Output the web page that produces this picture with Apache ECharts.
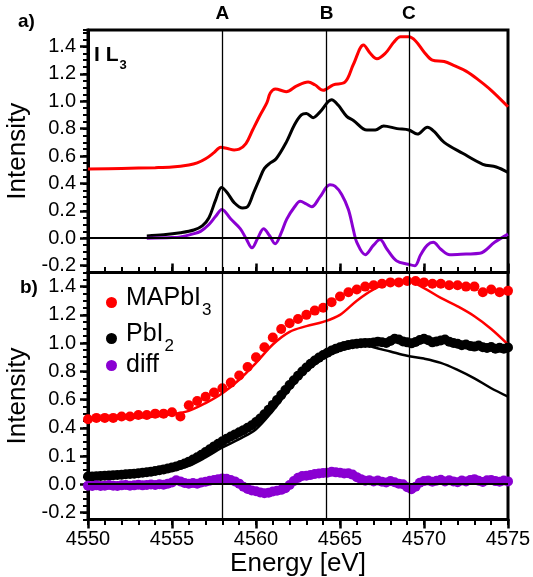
<!DOCTYPE html>
<html><head><meta charset="utf-8">
<script src="https://cdn.jsdelivr.net/npm/echarts@6/dist/echarts.min.js"></script>
<style>html,body{margin:0;padding:0;background:#fff}#c{width:533px;height:577px}</style>
</head><body><div id="c"></div><script>
// ---------- data ----------
// Panel a) : spectra (offset) and difference
const topRedE = [4550,4552,4554,4555,4556,4556.5,4557,4557.5,4557.9,4558.3,4558.7,4559,4559.4,4559.8,4560.25,4560.65,4560.85,4561.15,4561.8,4562.4,4563.1,4563.5,4564,4564.6,4565.3,4565.8,4566.4,4566.8,4567.2,4567.7,4568.2,4568.6,4569.1,4569.5,4570,4570.5,4571.2,4571.8,4572.5,4573.2,4574,4575];
const topRedV = [0.505,0.51,0.515,0.52,0.535,0.55,0.58,0.625,0.665,0.655,0.645,0.65,0.69,0.79,0.90,0.99,1.06,1.09,1.07,1.11,1.14,1.12,1.08,1.12,1.14,1.27,1.41,1.35,1.31,1.35,1.43,1.47,1.47,1.44,1.36,1.30,1.29,1.26,1.22,1.16,1.08,0.96];
const topBlackE = [4553.5,4554.5,4555.5,4556.3,4556.8,4557.2,4557.6,4557.95,4558.3,4558.7,4559.2,4559.5,4559.85,4560.2,4560.5,4560.85,4561.2,4561.8,4562.3,4562.7,4563.0,4563.4,4563.8,4564.5,4564.9,4565.4,4565.8,4566.6,4567.1,4567.6,4568.4,4569.1,4569.6,4570.2,4570.6,4571.2,4572.3,4573.5,4574.3,4575];
const topBlackV = [0.017,0.025,0.04,0.06,0.09,0.15,0.28,0.37,0.33,0.26,0.22,0.23,0.33,0.43,0.51,0.55,0.58,0.70,0.83,0.90,0.91,0.88,0.92,1.01,0.97,0.89,0.86,0.79,0.79,0.82,0.80,0.79,0.76,0.81,0.78,0.70,0.62,0.54,0.52,0.48];
const topPurpleE = [4553.5,4555,4555.5,4556.2,4556.7,4557.2,4557.6,4557.97,4558.5,4559.06,4559.4,4559.76,4560.1,4560.45,4560.8,4561.14,4561.5,4561.83,4562.3,4562.63,4563.0,4563.32,4563.8,4564.4,4564.7,4565.1,4565.5,4565.8,4566.0,4566.5,4567.0,4567.38,4567.8,4568.37,4569.06,4569.46,4569.8,4570.2,4570.55,4571.0,4571.54,4572.5,4573.32,4574.2,4575];
const topPurpleV = [0,0.005,0.01,0.03,0.05,0.10,0.16,0.21,0.14,0.07,0.0,-0.07,0.0,0.07,0.02,-0.04,0.04,0.14,0.23,0.27,0.25,0.23,0.30,0.39,0.38,0.32,0.21,0.06,-0.03,-0.12,-0.05,-0.01,-0.08,-0.165,-0.19,-0.20,-0.12,-0.05,-0.03,-0.08,-0.12,-0.115,-0.11,-0.03,0.03];

// Panel b) : measured points and calculated lines
const redDotE = [4550,4550.5,4551,4551.5,4552,4552.5,4553,4553.5,4554,4554.5,4555,4555.5,4556,4556.5,4557,4557.5,4558,4558.5,4559,4559.5,4560,4560.5,4561,4561.5,4562,4562.5,4563,4563.5,4564,4564.5,4565,4565.5,4566,4566.5,4567,4567.5,4568,4568.5,4569,4569.5,4570,4570.5,4571,4571.5,4572,4572.5,4573,4573.5,4574,4574.5,4575];
const redDotV = [0.46,0.47,0.47,0.47,0.48,0.48,0.49,0.49,0.50,0.50,0.51,0.48,0.56,0.59,0.62,0.65,0.68,0.72,0.77,0.83,0.90,0.97,1.04,1.10,1.14,1.17,1.20,1.23,1.25,1.29,1.33,1.36,1.38,1.40,1.41,1.42,1.43,1.43,1.44,1.44,1.43,1.42,1.42,1.41,1.41,1.40,1.40,1.36,1.38,1.36,1.37];
const dotE = [4550,4550.25,4550.5,4550.75,4551,4551.25,4551.5,4551.75,4552,4552.25,4552.5,4552.75,4553,4553.25,4553.5,4553.75,4554,4554.25,4554.5,4554.75,4555,4555.25,4555.5,4555.75,4556,4556.25,4556.5,4556.75,4557,4557.25,4557.5,4557.75,4558,4558.25,4558.5,4558.75,4559,4559.25,4559.5,4559.75,4560,4560.25,4560.5,4560.75,4561,4561.25,4561.5,4561.75,4562,4562.25,4562.5,4562.75,4563,4563.25,4563.5,4563.75,4564,4564.25,4564.5,4564.75,4565,4565.25,4565.5,4565.75,4566,4566.25,4566.5,4566.75,4567,4567.25,4567.5,4567.75,4568,4568.25,4568.5,4568.75,4569,4569.25,4569.5,4569.75,4570,4570.25,4570.5,4570.75,4571,4571.25,4571.5,4571.75,4572,4572.25,4572.5,4572.75,4573,4573.25,4573.5,4573.75,4574,4574.25,4574.5,4574.75,4575];
const blackDotV = [0.055,0.055,0.056,0.058,0.060,0.061,0.063,0.065,0.067,0.070,0.072,0.075,0.078,0.081,0.085,0.089,0.094,0.099,0.105,0.111,0.118,0.126,0.136,0.147,0.160,0.175,0.191,0.209,0.228,0.248,0.268,0.287,0.305,0.322,0.338,0.353,0.368,0.383,0.400,0.418,0.440,0.466,0.496,0.528,0.562,0.597,0.632,0.668,0.703,0.737,0.769,0.799,0.827,0.853,0.876,0.897,0.916,0.932,0.947,0.960,0.971,0.980,0.987,0.992,0.996,0.999,1.001,1.000,1.004,1.010,1.006,1.000,1.015,1.030,1.025,1.012,1.005,0.998,1.008,1.022,1.030,1.020,1.005,1.012,1.018,1.025,1.010,1.000,0.995,0.985,0.990,0.980,0.975,0.982,0.970,0.965,0.972,0.960,0.966,0.960,0.968];
const purpleDotV = [-0.010,-0.012,-0.008,-0.012,-0.010,-0.006,-0.010,-0.012,-0.008,-0.006,-0.010,-0.008,-0.004,-0.008,-0.006,-0.002,-0.006,0.000,-0.004,0.004,0.012,0.028,0.020,0.008,0.004,0.008,0.004,0.012,0.018,0.024,0.030,0.036,0.040,0.038,0.030,0.020,0.004,-0.018,-0.034,-0.044,-0.050,-0.058,-0.064,-0.060,-0.052,-0.046,-0.040,-0.028,-0.005,0.022,0.045,0.058,0.060,0.066,0.072,0.076,0.080,0.082,0.088,0.084,0.082,0.076,0.078,0.068,0.050,0.036,0.024,0.028,0.020,0.026,0.018,0.012,0.022,0.014,0.004,0.000,-0.022,-0.036,-0.018,0.010,0.022,0.026,0.018,0.024,0.032,0.020,0.028,0.020,0.014,0.026,0.020,0.030,0.036,0.024,0.016,0.028,0.030,0.022,0.018,0.026,0.020];
const botRedLineE = [4550,4552,4554,4555,4556,4557,4558,4559,4560,4561,4562,4563,4564,4565,4566,4567,4568,4569,4570,4571,4572,4573,4574,4575];
const botRedLineV = [0.455,0.465,0.48,0.495,0.52,0.575,0.645,0.74,0.86,0.99,1.08,1.12,1.15,1.20,1.30,1.38,1.43,1.44,1.39,1.32,1.26,1.19,1.10,0.99];
const botBlackLineE = [4550,4552,4554,4555,4556,4557,4558,4559,4560,4561,4562,4563,4564,4565,4566,4566.5,4567,4568,4569,4570,4571,4572,4573,4574,4575];
const botBlackLineV = [0.045,0.055,0.075,0.095,0.13,0.19,0.26,0.32,0.39,0.52,0.67,0.80,0.89,0.95,0.985,0.99,0.97,0.94,0.91,0.89,0.86,0.81,0.75,0.68,0.62];

// markers & tick labels
const markerE = [4558.0, 4564.2, 4569.1];
const markerNames = ['A', 'B', 'C'];
const yTickVals = [-0.2, 0, 0.2, 0.4, 0.6, 0.8, 1.0, 1.2, 1.4];
const topYLabels = ['-0.2', '0.0', '0.2', '0.4', '0.6', '0.8', '1.0', '1.2', '1.4'];
const botYLabels = ['-0.2', '0.0', '0.1', '0.4', '0.6', '0.8', '1.0', '1.2', '1.4'];
const seriesNames = ['MAPbI3', 'PbI2', 'diff'];
const legendRich = {'MAPbI3': '{n|MAPbI}{s|3}', 'PbI2': '{n|PbI}{s|2}', 'diff': '{n|diff}'};

// ---------- chart ----------
const FONT = 'Liberation Sans, Arial, Helvetica, sans-serif';
const RED = '#ff0000', BLACK = '#000000', PURPLE = '#8a00d2';
const pairs = (xs, ys) => xs.map((x, i) => [x, ys[i]]);
const labelFor = (labels) => (v) => {
  let best = 0;
  yTickVals.forEach((t, i) => { if (Math.abs(t - v) < Math.abs(yTickVals[best] - v)) best = i; });
  return labels[best];
};
const TOPY = [-0.25, 1.52], BOTY = [-0.25, 1.5];

const chart = echarts.init(document.getElementById('c'), null, {renderer: 'canvas'});

function xMajor(grid, showLabels) {
  return {
    type: 'value', gridIndex: grid, position: 'bottom', min: 4550, max: 4575, interval: 5,
    axisLine: {show: true, onZero: false, lineStyle: {color: BLACK, width: 3}},
    axisTick: {show: true, inside: !showLabels, length: 9, lineStyle: {color: BLACK, width: 2.5}},
    axisLabel: {show: showLabels, fontSize: 20, color: BLACK, margin: 10, fontFamily: FONT, formatter: (v) => String(v)},
    splitLine: {show: false},
    name: showLabels ? 'Energy [eV]' : '', nameLocation: 'middle', nameGap: 26,
    nameTextStyle: {fontSize: 26, color: BLACK, fontFamily: FONT}
  };
}
function xMinor(grid, inside) {
  return {
    type: 'value', gridIndex: grid, position: 'bottom', min: 4550, max: 4575, interval: 1,
    axisLine: {show: false, onZero: false},
    axisTick: {show: true, inside: inside, length: 5.5, lineStyle: {color: BLACK, width: 2}},
    axisLabel: {show: false}, splitLine: {show: false}
  };
}
function yMajor(grid, range, labels) {
  return {
    type: 'value', gridIndex: grid, position: 'left', min: range[0], max: range[1],
    axisLine: {show: true, onZero: false, lineStyle: {color: BLACK, width: 3}},
    axisTick: {show: true, customValues: yTickVals, length: 8, lineStyle: {color: BLACK, width: 2.5}},
    axisLabel: {customValues: yTickVals, formatter: labelFor(labels), fontSize: 20, color: BLACK, margin: 12, fontFamily: FONT},
    splitLine: {show: false},
    name: 'Intensity', nameLocation: 'middle', nameGap: 41,
    nameTextStyle: {fontSize: 26, color: BLACK, fontFamily: FONT}
  };
}
function yMinor(grid, range) {
  return {
    type: 'value', gridIndex: grid, position: 'left', min: range[0], max: range[1], interval: 0.05,
    axisLine: {show: false, onZero: false},
    axisTick: {show: true, length: 5, lineStyle: {color: BLACK, width: 2}},
    axisLabel: {show: false}, splitLine: {show: false}
  };
}
const legendText = {
  fontSize: 25, color: BLACK, fontFamily: FONT,
  rich: {
    n: {fontSize: 25, fontFamily: FONT, color: BLACK, verticalAlign: 'top', padding: [0, 0, 0, 4]},
    s: {fontSize: 17, fontFamily: FONT, color: BLACK, verticalAlign: 'top', padding: [16, 0, 0, 1]}
  }
};
function legendCfg(name, top) {
  return {
    data: [name], left: 106, top: top, orient: 'vertical', icon: 'circle',
    itemWidth: 11, itemHeight: 11, padding: 0, selectedMode: false,
    formatter: (n) => legendRich[n], textStyle: legendText
  };
}
const lineS = (name, xi, yi, xs, ys, color, w) => ({
  name: name, type: 'line', xAxisIndex: xi, yAxisIndex: yi, data: pairs(xs, ys),
  showSymbol: false, smooth: 0.35, lineStyle: {color: color, width: w}, itemStyle: {color: color}, z: 3
});
const dotS = (name, xs, ys, color) => ({
  name: name, type: 'scatter', xAxisIndex: 2, yAxisIndex: 2, data: pairs(xs, ys),
  symbol: 'circle', symbolSize: 10, itemStyle: {color: color, opacity: 1}, z: 4
});
const vLines = (withLabels) => ({
  silent: true, symbol: 'none', animation: false,
  lineStyle: {color: BLACK, width: 1.3, type: 'solid'},
  label: {show: withLabels, position: 'end', distance: 7, formatter: (p) => p.name,
          fontSize: 19, fontWeight: 'bold', color: BLACK, fontFamily: FONT},
  data: markerE.map((e, i) => ({xAxis: e, name: markerNames[i]}))
    .concat([{yAxis: 0, name: '', label: {show: false}, lineStyle: {width: 1.8}}])
});

const topLines = [
  lineS('topRed', 0, 0, topRedE, topRedV, RED, 3),
  Object.assign(lineS('topBlack', 0, 0, topBlackE, topBlackV, BLACK, 3), {markLine: vLines(true)}),
  lineS('topDiff', 0, 0, topPurpleE, topPurpleV, PURPLE, 3)
];
const botLines = [
  Object.assign(lineS('botRedLine', 2, 2, botRedLineE, botRedLineV, RED, 2.5), {markLine: vLines(false)}),
  lineS('botBlackLine', 2, 2, botBlackLineE, botBlackLineV, BLACK, 2.5)
];
const dots = [
  dotS(seriesNames[0], redDotE, redDotV, RED),
  dotS(seriesNames[1], dotE, blackDotV, BLACK),
  dotS(seriesNames[2], dotE, purpleDotV, PURPLE)
];

chart.setOption({
  animation: false,
  textStyle: {fontFamily: FONT},
  title: [
    {text: 'a)', left: 18, top: 12, padding: 0, textStyle: {fontSize: 19, fontWeight: 'bold', color: BLACK, fontFamily: FONT}},
    {text: 'b)', left: 20, top: 278, padding: 0, textStyle: {fontSize: 19, fontWeight: 'bold', color: BLACK, fontFamily: FONT}},
    {text: '{a|I L}{s|3}', left: 94, top: 45, padding: 0,
     textStyle: {rich: {
       a: {fontSize: 21, fontWeight: 'bold', color: BLACK, fontFamily: FONT, verticalAlign: 'top'},
       s: {fontSize: 13, fontWeight: 'bold', color: BLACK, fontFamily: FONT, verticalAlign: 'top', padding: [14, 0, 0, 1]}
     }}}
  ],
  legend: [legendCfg(seriesNames[0], 286), legendCfg(seriesNames[1], 322), legendCfg(seriesNames[2], 353)],
  grid: [
    {left: 88, top: 30, width: 420, height: 242.5, show: true, borderColor: BLACK, borderWidth: 3, backgroundColor: 'transparent', containLabel: false, outerBoundsMode: 'none'},
    {left: 88, top: 272.5, width: 420, height: 247, show: true, borderColor: BLACK, borderWidth: 3, backgroundColor: 'transparent', containLabel: false, outerBoundsMode: 'none'}
  ],
  xAxis: [xMajor(0, false), xMinor(0, true), xMajor(1, true), xMinor(1, false)],
  yAxis: [yMajor(0, TOPY, topYLabels), yMinor(0, TOPY), yMajor(1, BOTY, botYLabels), yMinor(1, BOTY)],
  series: topLines.concat(botLines, dots)
});
</script></body></html>
